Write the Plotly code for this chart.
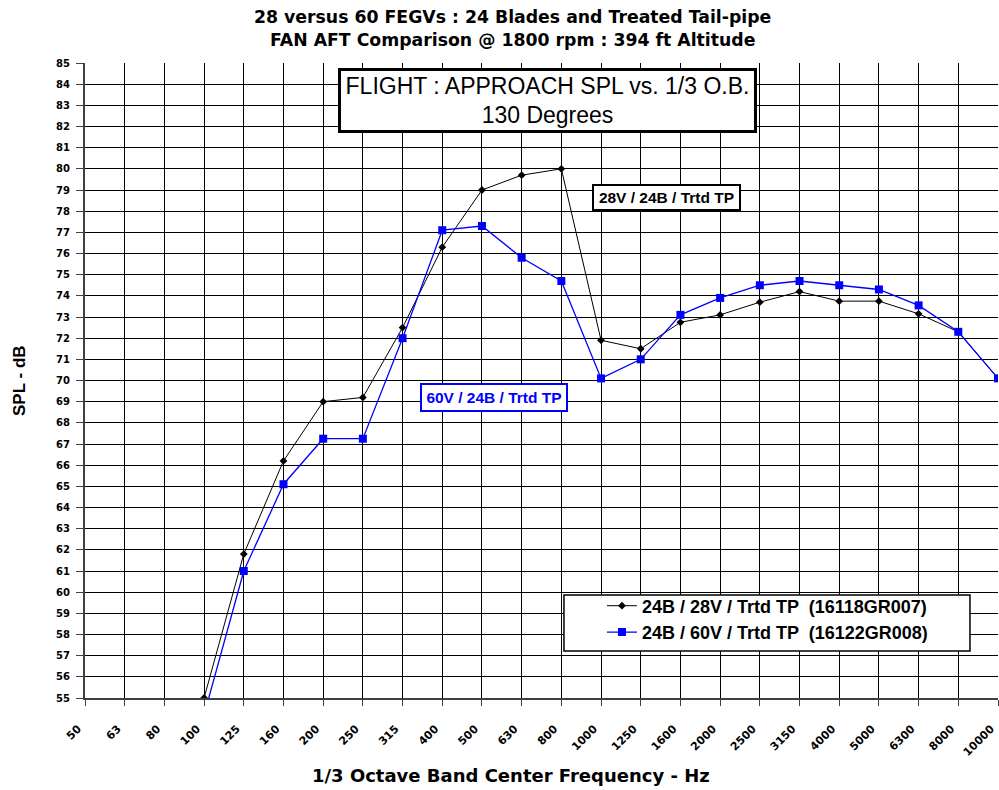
import plotly.graph_objects as go

# 1/3 octave band centre frequencies (Hz)
bands = ["50", "63", "80", "100", "125", "160", "200", "250", "315", "400",
         "500", "630", "800", "1000", "1250", "1600", "2000", "2500", "3150",
         "4000", "5000", "6300", "8000", "10000"]

# SPL (dB) per band, starting at the 100 Hz band
spl_bands = bands[3:]
spl_28v = [55.0, 61.8, 66.2, 69.0, 69.2, 72.5, 76.3, 79.0, 79.7, 80.0, 71.9,
           71.5, 72.75, 73.1, 73.7, 74.2, 73.75, 73.75, 73.15, 72.3, 70.1]
spl_60v = [54.2, 61.0, 65.1, 67.25, 67.25, 72.0, 77.1, 77.3, 75.8, 74.7, 70.1,
           71.0, 73.1, 73.9, 74.5, 74.7, 74.5, 74.3, 73.55, 72.3, 70.1]

name_28v = "24B / 28V / Trtd TP  (16118GR007)"
name_60v = "24B / 60V / Trtd TP  (16122GR008)"

y_ticks = list(range(55, 86))

FONT = "Liberation Sans, Arial, sans-serif"
WIDE = "DejaVu Sans, Verdana, sans-serif"

fig = go.Figure()
fig.add_trace(go.Scatter(
    x=spl_bands, y=spl_28v, name=name_28v, mode="lines+markers",
    line=dict(color="black", width=1),
    marker=dict(symbol="diamond", size=6, color="black"),
))
fig.add_trace(go.Scatter(
    x=spl_bands, y=spl_60v, name=name_60v, mode="lines+markers",
    line=dict(color="#0000FF", width=1.3),
    marker=dict(symbol="square", size=8, color="#0000FF"),
))

fig.update_layout(
    width=999, height=790,
    margin=dict(l=85, r=1, t=63, b=92),
    paper_bgcolor="white", plot_bgcolor="white",
    font=dict(family=FONT, color="black"),
    showlegend=True,
    legend=dict(
        x=0.5246, y=0.174, xanchor="left", yanchor="top",
        bgcolor="rgba(0,0,0,0)", borderwidth=0,
        font=dict(family=FONT, size=18, weight="bold", color="black"),
        indentation=38,
    ),
    # framed white panel behind the legend entries
    shapes=[dict(
        type="rect", xref="paper", yref="paper",
        x0=0.5246, x1=0.9693, y0=0.0740, y1=0.1622,
        fillcolor="white", line=dict(color="black", width=1.5),
        layer="above",
    )],
)

fig.update_xaxes(
    type="category", categoryorder="array", categoryarray=bands,
    range=[0, len(bands) - 1], automargin=False,
    showgrid=True, gridcolor="black", gridwidth=1,
    showline=True, linecolor="#404040", linewidth=2,
    ticks="outside", ticklen=6, tickcolor="#404040", tickwidth=1,
    tickangle=-45, ticklabelstandoff=12, ticklabelshift=-7,
    tickfont=dict(family=WIDE, size=11, weight="bold", color="black"),
    zeroline=False,
)
fig.update_yaxes(
    range=[55, 85], tickvals=y_ticks, ticktext=[str(v) for v in y_ticks],
    automargin=False,
    showgrid=True, gridcolor="black", gridwidth=1,
    showline=True, linecolor="#404040", linewidth=2,
    ticks="outside", ticklen=7, tickcolor="#404040", tickwidth=1,
    ticklabelstandoff=4,
    tickfont=dict(family=WIDE, size=10, weight="bold", color="black"),
    zeroline=False,
)

annotations = [
    dict(text="28 versus 60 FEGVs : 24 Blades and Treated Tail-pipe",
         x=0.4677, y=1.0724, font=dict(family=WIDE, size=17.3, weight="bold")),
    dict(text="FAN AFT Comparison @ 1800 rpm : 394 ft Altitude",
         x=0.4677, y=1.0362, font=dict(family=WIDE, size=17.3, weight="bold")),
    dict(text="1/3 Octave Band Center Frequency - Hz",
         x=0.4666, y=-0.1228, font=dict(family=WIDE, size=18, weight="bold")),
    dict(text="SPL - dB", x=-0.0712, y=0.5008, textangle=-90,
         font=dict(size=17, weight="bold")),
    dict(text="FLIGHT : APPROACH SPL vs. 1/3 O.B.<br>130 Degrees",
         x=0.5066, y=0.9409, font=dict(size=23),
         bgcolor="white", bordercolor="black", borderwidth=3, borderpad=2,
         width=409, height=55),
    dict(text="28V / 24B / Trtd TP", x=0.6371, y=0.7879,
         font=dict(size=15.5, weight="bold"),
         bgcolor="white", bordercolor="black", borderwidth=2, borderpad=2,
         width=141, height=19),
    dict(text="60V / 24B / Trtd TP", x=0.448, y=0.474,
         font=dict(size=15.5, weight="bold", color="#0000FF"),
         bgcolor="white", bordercolor="#0000FF", borderwidth=2, borderpad=2,
         width=140, height=21),
]
for a in annotations:
    a.setdefault("xref", "paper")
    a.setdefault("yref", "paper")
    a.setdefault("showarrow", False)
    a.setdefault("xanchor", "center")
    a.setdefault("yanchor", "middle")
    a["font"].setdefault("family", FONT)
    a["font"].setdefault("color", "black")
    fig.add_annotation(**a)

fig.write_html("out.html")
